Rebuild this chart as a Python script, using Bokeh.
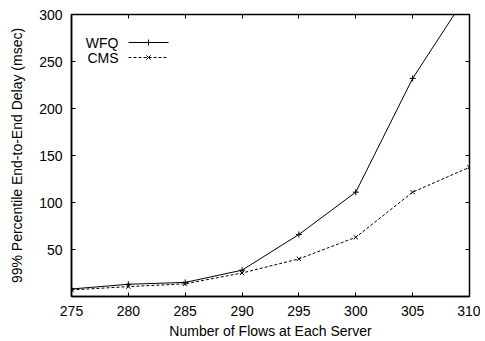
from bokeh.plotting import figure
from bokeh.models import Range1d, FixedTicker, LinearAxis
from bokeh.embed import file_html
from bokeh.resources import INLINE
from bokeh.core.properties import value

flows = [275, 280, 285, 290, 295, 300, 305, 310]
wfq = [8, 13, 15, 28, 66, 111, 232, 325]
cms = [7, 10.5, 13.5, 25, 40, 63, 111, 137.5]
x_ticks = [275, 280, 285, 290, 295, 300, 305, 310]
y_ticks = [50, 100, 150, 200, 250, 300]
series_names = ["WFQ", "CMS"]

FONT = "Liberation Sans"
FS = "14px"

p = figure(width=480, height=341, output_backend="svg", toolbar_location=None,
           x_range=Range1d(275, 310), y_range=Range1d(0, 300),
           min_border_left=71, min_border_right=11, min_border_top=14, min_border_bottom=45,
           x_axis_label="Number of Flows at Each Server",
           y_axis_label="99% Percentile End-to-End Delay (msec)")
p.background_fill_color = "white"
p.border_fill_color = "white"
p.outline_line_color = "black"
p.outline_line_width = 1.5
p.grid.visible = False

for ax in p.xaxis + p.yaxis:
    ax.major_tick_in = 4
    ax.major_tick_out = 0
    ax.minor_tick_in = 0
    ax.minor_tick_out = 0
    ax.axis_line_color = "black"
    ax.axis_line_width = 1.5
    ax.major_label_text_font = FONT
    ax.major_label_text_font_size = FS
    ax.major_label_text_color = "black"
    ax.axis_label_text_font = FONT
    ax.axis_label_text_font_size = FS
    ax.axis_label_text_font_style = "normal"
    ax.axis_label_text_color = "black"

p.xaxis.ticker = FixedTicker(ticks=x_ticks)
p.yaxis.ticker = FixedTicker(ticks=y_ticks)
p.xaxis.major_label_standoff = 9
p.xaxis.axis_label_standoff = 4
p.yaxis.major_label_standoff = 9
p.yaxis.axis_label_standoff = 11

top = LinearAxis(ticker=FixedTicker(ticks=x_ticks), major_label_text_color=None,
                 major_tick_in=4, major_tick_out=0, minor_tick_in=0, minor_tick_out=0,
                 major_label_text_font_size="0px", axis_line_color=None)
right = LinearAxis(ticker=FixedTicker(ticks=y_ticks), major_label_text_color=None,
                   major_tick_in=4, major_tick_out=0, minor_tick_in=0, minor_tick_out=0,
                   major_label_text_font_size="0px", axis_line_color=None)
p.add_layout(top, "above")
p.add_layout(right, "right")

# data
p.line(flows, wfq, line_color="black", line_width=1)
p.scatter(flows, wfq, marker="cross", size=6, line_color="black", line_width=1)
p.line(flows, cms, line_color="black", line_width=1, line_dash="3 2")
p.scatter(flows, cms, marker="x", size=6, line_color="black", line_width=1)

# manual gnuplot-style legend (key) in the top-left
def dx(px):
    return 275 + px * 35 / 398.0
def dy(py):
    return 300 - py * 300 / 282.0

styles = [dict(line_dash="solid", marker="cross"), dict(line_dash="3 2", marker="x")]
for i, name in enumerate(series_names):
    yy = dy(28 + 15 * i)
    p.text([dx(47)], [yy], text=[name], text_align="right", text_baseline="middle",
           text_font=value(FONT), text_font_size=FS, text_color="black")
    p.line([dx(57), dx(97)], [yy, yy], line_color="black", line_width=1,
           line_dash=styles[i]["line_dash"])
    p.scatter([dx(77)], [yy], marker=styles[i]["marker"], size=6, line_color="black")

open("out.html", "w").write(file_html(p, INLINE))
